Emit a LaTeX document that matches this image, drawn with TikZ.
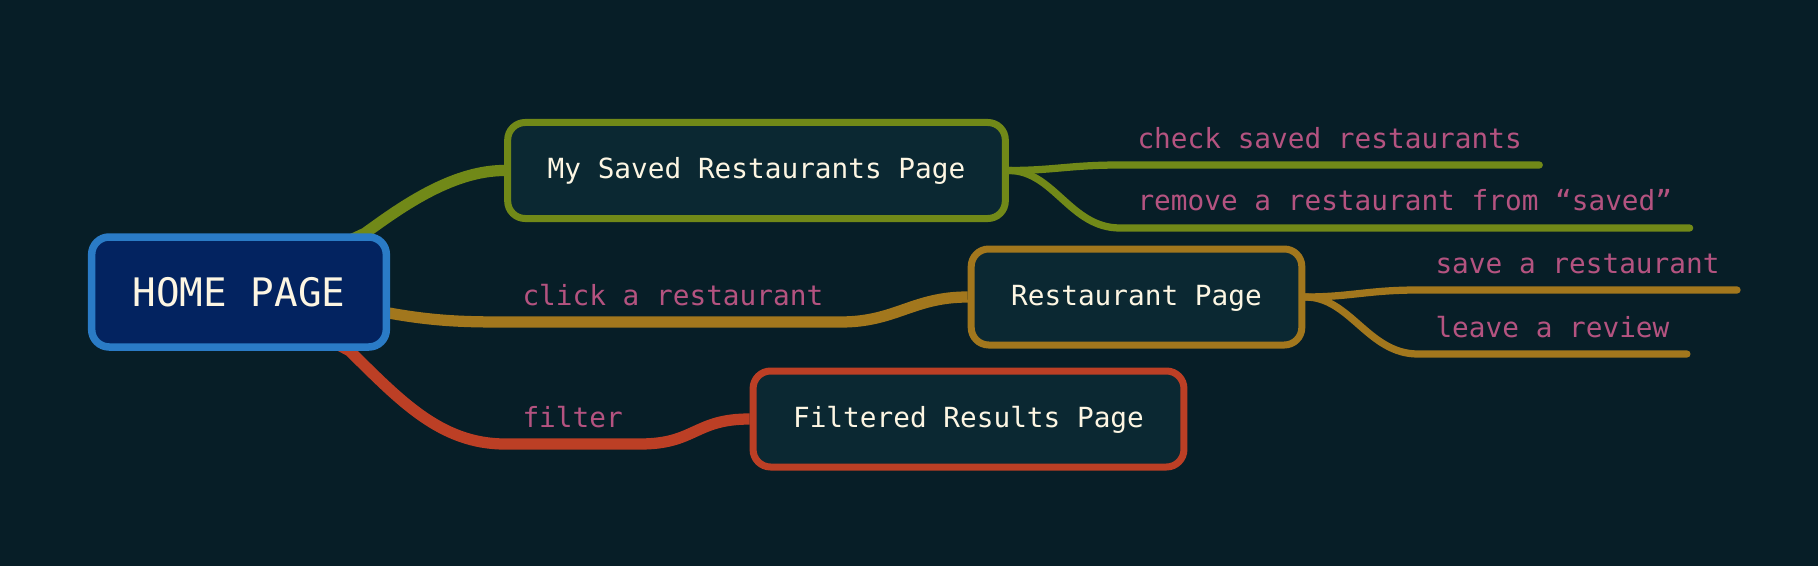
\documentclass[tikz,border=0pt]{standalone}
\usepackage{fontspec}
\newfontfamily\mapfont{DejaVu Sans Mono}
\usetikzlibrary{positioning}
\pgfdeclarelayer{back}
\pgfsetlayers{back,main}

\begin{document}
\begin{tikzpicture}[x=0.4pt,y=-0.4pt,
    page/.style={draw,line width=2.8pt,rounded corners=7pt,fill=boxfill,text=cream,
      font=\mapfont\fontsize{11.1}{13}\selectfont,inner xsep=16pt,
      minimum height=38.4pt,text height=8.8pt,text depth=2pt},
    act/.style={text=pink,font=\mapfont\fontsize{11.1}{13}\selectfont,
      inner xsep=6.8pt,inner ysep=6.6pt,text depth=0pt,anchor=south west},
    trunk/.style={line width=4.5pt},
    twig/.style={line width=2.9pt,line cap=round}]
		    \definecolor{bg}{RGB}{7,30,39}
		    \definecolor{boxfill}{RGB}{11,40,50}
		    \definecolor{homefill}{RGB}{3,35,96}
		    \definecolor{homeline}{RGB}{42,123,198}
		    \definecolor{lgreen}{RGB}{113,137,24}
		    \definecolor{lgold}{RGB}{162,119,29}
		    \definecolor{lred}{RGB}{188,63,37}
		    \definecolor{pink}{RGB}{180,83,128}
		    \definecolor{cream}{RGB}{253,246,227}

		    \node[page,draw=homeline,fill=homefill,line width=3pt,inner xsep=16.4pt,
		      font=\mapfont\fontsize{15.7}{18}\selectfont,minimum height=44pt,
		      text height=13pt,text depth=1.8pt] (home) at (239,292) {HOME PAGE};
		    \node[page,draw=lgreen] (saved) at (756.5,170.5) {My Saved Restaurants Page};
		    \node[page,draw=lgold] (resto) at (1136.5,297) {Restaurant Page};
		    \node[page,draw=lred] (filtered) at (968.5,419) {Filtered Results Page};

		    \node[act] (click) at (505,322) {click a restaurant};
		    \node[act] (filter) at (505,444) {filter};
		    \node[act] (check) at (1120,165) {check saved restaurants};
		    \node[act] (remove) at (1120,228) {remove a restaurant from “saved”};
		    \node[act] (savelbl) at (1418,290) {save a restaurant};
		    \node[act] (review) at (1418,354) {leave a review};

		    % trunks run out from behind the home box
		    \begin{pgfonlayer}{back}
		    \fill[bg] (0,0) rectangle (1818,566);
		    \draw[trunk,lgreen] (home.center) -- (home.25) .. controls +(32,-23) and +(-54,0) .. (saved.west);
		    \draw[trunk,lgold] (home.center) -- (home.-8) .. controls +(45,8) and +(-40,0) .. (click.south west)
		      -- (click.south east) .. controls +(55,0) and +(-55,0) .. (resto.west);
		    \draw[trunk,lred] (home.center) -- (home.-28) .. controls +(50,49) and +(-65,0) .. (filter.south west)
		      -- (filter.south east) .. controls +(55,0) and +(-55,0) .. (filtered.west);
		    \end{pgfonlayer}

		    \draw[twig,lgreen] (saved.east) .. controls +(45,0) and +(-50,0) .. (check.south west) -- (check.south east);
		    \draw[twig,lgreen] (saved.east) .. controls +(45,0) and +(-50,0) .. (remove.south west) -- (remove.south east);
		    \draw[twig,lgold] (resto.east) .. controls +(45,0) and +(-50,0) .. (savelbl.south west) -- (savelbl.south east);
		    \draw[twig,lgold] (resto.east) .. controls +(45,0) and +(-50,0) .. (review.south west) -- (review.south east);
\end{tikzpicture}
\end{document}
